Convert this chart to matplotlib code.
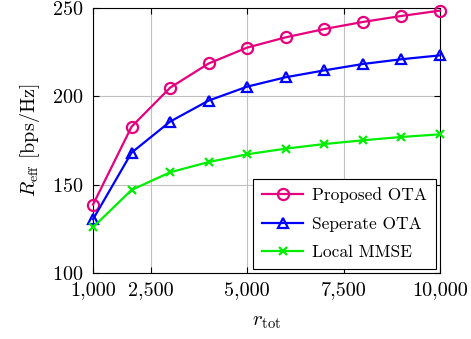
import numpy as np
import matplotlib.pyplot as plt
from matplotlib.ticker import FuncFormatter

plt.rcParams['font.family'] = 'cmr10'
plt.rcParams['mathtext.fontset'] = 'cm'
plt.rcParams['axes.formatter.use_mathtext'] = True

r_tot = [1000, 2000, 3000, 4000, 5000, 6000, 7000, 8000, 9000, 10000]
proposed_ota = [138.7, 182.8, 204.9, 218.6, 227.6, 233.4, 238.1, 242.1, 245.5, 248.5]
separate_ota = [130.4, 168.1, 185.7, 197.6, 205.5, 210.8, 214.7, 218.3, 221.0, 223.2]
local_mmse = [125.9, 147.0, 157.0, 162.8, 167.2, 170.4, 173.0, 175.1, 177.0, 178.5]
x_ticks = [1000, 2500, 5000, 7500, 10000]
y_ticks = [100, 150, 200, 250]

fig = plt.figure(figsize=(4.71, 3.39), dpi=100)
ax = fig.add_axes([93 / 471, 1 - 273 / 339, 347 / 471, 265 / 339])

ax.plot(r_tot, proposed_ota, '-o', color='#e6007e', lw=1.6, ms=8, mfc='none', mew=1.6,
        label='Proposed OTA', zorder=3, clip_on=False)
ax.plot(r_tot, separate_ota, '-^', color='#0000ff', lw=1.6, ms=7.5, mfc='none', mew=1.6,
        label='Seperate OTA', zorder=3, clip_on=False)
ax.plot(r_tot, local_mmse, '-x', color='#00ee00', lw=1.6, ms=6, mew=1.6,
        label='Local MMSE', zorder=3, clip_on=False)

ax.set_xlim(1000, 10000)
ax.set_ylim(100, 250)
ax.set_xticks(x_ticks)
ax.set_yticks(y_ticks)
ax.xaxis.set_major_formatter(FuncFormatter(lambda v, p: f'{int(v):,}'))
ax.tick_params(direction='in', labelsize=14.5, length=4, top=True, right=True)
ax.tick_params(axis='x', pad=6)
ax.tick_params(axis='y', pad=7)
ax.grid(True, color='#c0c0c0', lw=0.8)
ax.set_axisbelow(True)
for s in ax.spines.values():
    s.set_linewidth(0.8)

ax.set_xlabel(r'$r_{\mathrm{tot}}$', fontsize=15, labelpad=10)
ax.set_ylabel(r'$R_{\mathrm{eff}}$ [bps/Hz]', fontsize=14.5, labelpad=7)

leg = ax.legend(loc='lower right', fontsize=12.5, fancybox=False, framealpha=1,
                edgecolor='black', borderaxespad=0.25, handlelength=2.4,
                labelspacing=0.75, borderpad=0.5, handletextpad=0.5)
leg.get_frame().set_linewidth(0.8)

fig.savefig('out.png', dpi=100)
